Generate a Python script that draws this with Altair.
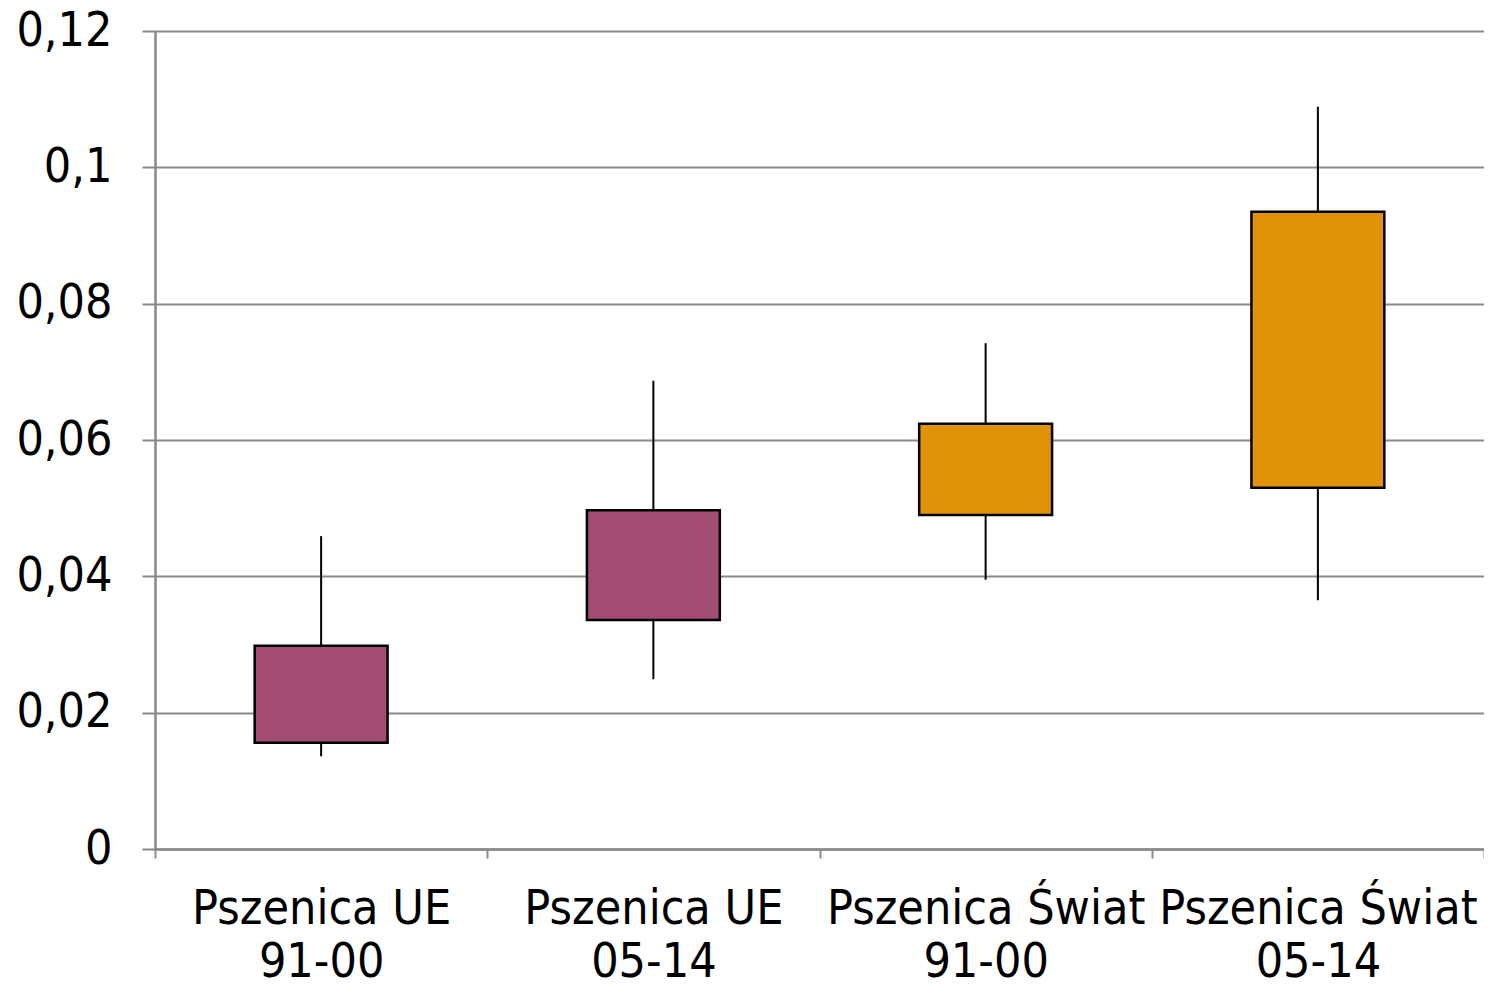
import altair as alt
import pandas as pd

categories = ["Pszenica UE 91-00", "Pszenica UE 05-14", "Pszenica Świat 91-00", "Pszenica Świat 05-14"]
label_line1 = ["Pszenica UE", "Pszenica UE", "Pszenica Świat", "Pszenica Świat"]
label_line2 = ["91-00", "05-14", "91-00", "05-14"]
whisker_low = [0.0136, 0.0249, 0.0395, 0.0365]
box_low = [0.0156, 0.0336, 0.0490, 0.0530]
box_high = [0.0298, 0.0497, 0.0624, 0.0935]
whisker_high = [0.0459, 0.0687, 0.0742, 0.1089]
colors = ["#A34C72", "#A34C72", "#E09309", "#E09309"]

df = pd.DataFrame({
    "cat": categories,
    "l1": label_line1,
    "l2": label_line2,
    "wlo": whisker_low,
    "blo": box_low,
    "bhi": box_high,
    "whi": whisker_high,
    "color": colors,
})

FONT = "DejaVu Sans Condensed, DejaVu Sans, sans-serif"

parts = []
for c, a, b in zip(categories, label_line1, label_line2):
    parts.append("datum.value == '%s' ? ['%s','%s']" % (c, a, b))
label_expr = " : ".join(parts) + " : ''"

x = alt.X("cat:N", sort=categories, title=None,
          scale=alt.Scale(paddingInner=0, paddingOuter=0),
          axis=alt.Axis(labelExpr=label_expr, labelFont=FONT, labelFontSize=48,
                        labelColor="#000000", labelAngle=0, labelPadding=27,
                        labelLineHeight=53, labelLimit=600,
                        domainColor="#898989", domainWidth=2.5,
                        tickColor="#898989", tickWidth=2, tickSize=9,
                        tickBand="extent", grid=False))

y_scale = alt.Scale(domain=[0, 0.12], nice=False, zero=True)
y_axis = alt.Axis(values=[0, 0.02, 0.04, 0.06, 0.08, 0.1, 0.12],
                  labelExpr="replace(format(datum.value, '.2~f'), '.', ',')",
                  labelFont=FONT, labelFontSize=48, labelColor="#000000",
                  labelPadding=30, tickSize=13, tickColor="#898989", tickWidth=2,
                  domainColor="#898989", domainWidth=2.5,
                  grid=True, gridColor="#898989", gridWidth=2, title=None)

whiskers = alt.Chart(df).mark_rule(color="#000000", strokeWidth=2).encode(
    x=x,
    y=alt.Y("wlo:Q", scale=y_scale, axis=y_axis),
    y2="whi:Q",
)

boxes = alt.Chart(df).mark_bar(width=alt.RelativeBandSize(0.4), stroke="#000000",
                               strokeWidth=2.5).encode(
    x=x,
    y=alt.Y("blo:Q", scale=y_scale, axis=y_axis),
    y2="bhi:Q",
    color=alt.Color("color:N", scale=None, legend=None),
)

chart = alt.layer(whiskers, boxes).properties(
    width=1329,
    height=818,
    autosize=alt.AutoSizeParams(type="none"),
    padding={"left": 147, "top": 23, "right": 0, "bottom": 130},
).configure_view(stroke=None).configure(background="#ffffff")

chart.save("out.html", embed_options={"renderer": "svg", "actions": False})
